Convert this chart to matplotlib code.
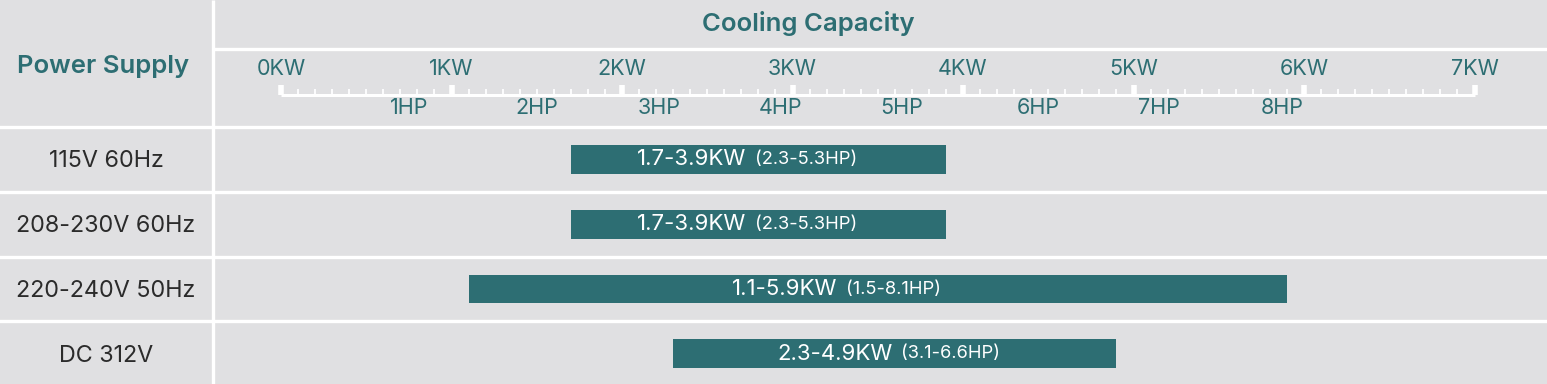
import numpy as np
import matplotlib
matplotlib.use("Agg")
import matplotlib.pyplot as plt

# data
supplies = ["115V 60Hz", "208-230V 60Hz", "220-240V 50Hz", "DC 312V"]
kw_low = [1.7, 1.7, 1.1, 2.3]
kw_high = [3.9, 3.9, 5.9, 4.9]
hp_low = [2.3, 2.3, 1.5, 3.1]
hp_high = [5.3, 5.3, 8.1, 6.6]
kw_ticks = [0, 1, 2, 3, 4, 5, 6, 7]
kw_tick_labels = ["0KW", "1KW", "2KW", "3KW", "4KW", "5KW", "6KW", "7KW"]
hp_ticks = [0.75, 1.50, 2.22, 2.93, 3.64, 4.44, 5.15, 5.87]   # where the HP marks sit, in kW
hp_tick_labels = ["1HP", "2HP", "3HP", "4HP", "5HP", "6HP", "7HP", "8HP"]

# layout (pixels of the 1547x384 picture)
W, H = 1547, 384
KW0_PX, PX_PER_KW = 281, 170.5
label_split = [2.754, 2.754, 3.29, 3.61]   # kW position between the KW and HP parts of a bar label

BG = "#e0e0e2"
TEAL = "#2d6e73"
DARK = "#2b2b2b"
FONT = "Inter"


def kw(px):
    return (px - KW0_PX) / PX_PER_KW


xlim = (kw(0), kw(W))
fig = plt.figure(figsize=(W / 100, H / 100), dpi=100)
fig.patch.set_facecolor("white")

# header
head_h = 127
axh = fig.add_axes([0, 1 - head_h / H, 1, head_h / H])
axh.set_facecolor(BG)
axh.set_xlim(*xlim)
axh.set_ylim(head_h, 0)
axh.axis("off")
axh.add_patch(plt.Rectangle((xlim[0], 0), xlim[1] - xlim[0], head_h, color=BG, zorder=0))
axh.hlines(48.5, kw(213), xlim[1], color="white", lw=2.4, zorder=2)
axh.vlines(kw(213), 0, head_h, color="white", lw=2.4, zorder=2)
axh.text(kw(808), 24, "Cooling Capacity", ha="center", va="center", color=TEAL,
         fontsize=18.5, fontweight="semibold", family=FONT)
axh.text(kw(103), 67, "Power Supply", ha="center", va="center", color=TEAL,
         fontsize=18.5, fontweight="semibold", family=FONT)

# ruler
minor = np.arange(0, 70.5) / 10
axh.hlines(95, kw_ticks[0], kw_ticks[-1], color="white", lw=2.2, zorder=3)
axh.vlines(minor, 88.5, 95, color="white", lw=1.3, zorder=3)
axh.vlines(kw_ticks, 85, 95, color="white", lw=4, zorder=3)
for x, lab in zip(kw_ticks, kw_tick_labels):
    axh.text(x, 69, lab, ha="center", va="center", color=TEAL, fontsize=15.5, family=FONT)
for x, lab in zip(hp_ticks, hp_tick_labels):
    axh.text(x, 108, lab, ha="center", va="center", color=TEAL, fontsize=15.5, family=FONT)

# body rows
pitch = 64.8
top = head_h
body_h = pitch * len(supplies)
axb = fig.add_axes([0, 1 - (top + body_h) / H, 1, body_h / H])
axb.set_facecolor(BG)
axb.set_xlim(*xlim)
axb.set_ylim(len(supplies) - 0.5, -0.5)
axb.axis("off")
axb.add_patch(plt.Rectangle((xlim[0], -0.5), xlim[1] - xlim[0], len(supplies), color=BG, zorder=0))
for y in np.arange(len(supplies)) - 0.5:
    axb.axhline(y, color="white", lw=2.4, zorder=2, clip_on=False)
axb.axvline(kw(213), color="white", lw=2.4, zorder=2)

rows = np.arange(len(supplies))
axb.barh(rows, np.array(kw_high) - np.array(kw_low), left=kw_low, height=0.445,
         color=TEAL, zorder=3)
for i, name in enumerate(supplies):
    axb.text(kw(106), i + 0.03, name, ha="center", va="center", color=DARK, fontsize=16.8,
             family=FONT)
    axb.annotate(f"{kw_low[i]}-{kw_high[i]}KW", (label_split[i], i), xytext=(-3, 0),
                 textcoords="offset points", ha="right", va="center", color="white",
                 fontsize=16, family=FONT, zorder=4)
    axb.annotate(f"({hp_low[i]}-{hp_high[i]}HP)", (label_split[i], i), xytext=(3, 0),
                 textcoords="offset points", ha="left", va="center", color="white",
                 fontsize=13.2, family=FONT, zorder=4)

fig.savefig("out.png", dpi=100, facecolor=fig.get_facecolor())
